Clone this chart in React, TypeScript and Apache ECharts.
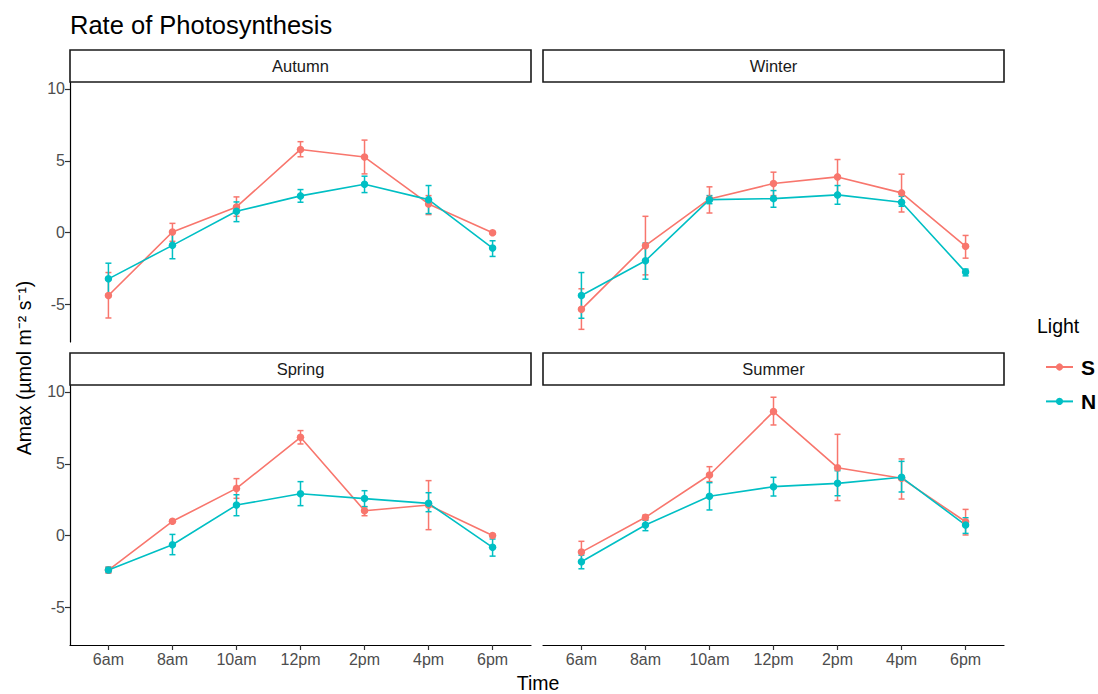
import React, { useEffect, useRef } from "react";
import * as echarts from "echarts";

const times = ["6am", "8am", "10am", "12pm", "2pm", "4pm", "6pm"];
const seasons = ["Autumn", "Winter", "Spring", "Summer"];
const yTicks = [-5, 0, 5, 10];

// Autumn
const autumnS = [-4.37, 0.05, 1.79, 5.79, 5.26, 2.0, 0.0];
const autumnSLow = [-5.93, -0.6, 1.14, 5.28, 4.09, 1.26, -0.08];
const autumnSHigh = [-2.77, 0.65, 2.49, 6.33, 6.44, 2.58, 0.08];
const autumnN = [-3.21, -0.88, 1.49, 2.56, 3.37, 2.3, -1.07];
const autumnNLow = [-4.3, -1.81, 0.77, 2.12, 2.79, 1.33, -1.65];
const autumnNHigh = [-2.12, 0.05, 2.14, 3.0, 3.93, 3.28, -0.56];
// Winter
const winterS = [-5.33, -0.9, 2.35, 3.42, 3.88, 2.77, -0.95];
const winterSLow = [-6.72, -2.93, 1.37, 2.58, 2.65, 1.44, -1.77];
const winterSHigh = [-3.9, 1.14, 3.19, 4.21, 5.09, 4.07, -0.19];
const winterN = [-4.37, -1.95, 2.3, 2.37, 2.63, 2.12, -2.74];
const winterNLow = [-5.95, -3.23, 2.02, 1.77, 1.98, 1.84, -3.0];
const winterNHigh = [-2.77, -0.72, 2.58, 2.93, 3.28, 2.53, -2.53];
// Spring
const springS = [-2.39, 1.0, 3.29, 6.84, 1.74, 2.13, 0.02];
const springSLow = [-2.6, 0.92, 2.6, 6.38, 1.39, 0.42, -0.05];
const springSHigh = [-2.18, 1.08, 3.97, 7.31, 2.02, 3.83, 0.08];
const springN = [-2.39, -0.63, 2.13, 2.92, 2.58, 2.25, -0.81];
const springNLow = [-2.55, -1.32, 1.39, 2.09, 2.02, 1.67, -1.42];
const springNHigh = [-2.2, 0.09, 2.85, 3.76, 3.13, 2.99, -0.23];
// Summer
const summerS = [-1.14, 1.28, 4.22, 8.63, 4.73, 3.99, 0.97];
const summerSLow = [-1.81, 1.09, 3.76, 7.7, 2.44, 2.55, 0.05];
const summerSHigh = [-0.39, 1.44, 4.8, 9.63, 7.05, 5.34, 1.83];
const summerN = [-1.81, 0.74, 2.74, 3.41, 3.64, 4.06, 0.74];
const summerNLow = [-2.3, 0.35, 1.79, 2.76, 2.78, 3.04, 0.16];
const summerNHigh = [-1.35, 1.09, 3.69, 4.06, 4.52, 5.17, 1.25];

const panelS = [
  [autumnS, autumnSLow, autumnSHigh],
  [winterS, winterSLow, winterSHigh],
  [springS, springSLow, springSHigh],
  [summerS, summerSLow, summerSHigh],
];
const panelN = [
  [autumnN, autumnNLow, autumnNHigh],
  [winterN, winterNLow, winterNHigh],
  [springN, springNLow, springNHigh],
  [summerN, summerNLow, summerNHigh],
];

const COLOR_S = "#F8766D";
const COLOR_N = "#00BFC4";
const FONT = "Liberation Sans, Arial, sans-serif";

const grids = [
  { left: 70, top: 82, width: 461, height: 260 },
  { left: 543, top: 82, width: 461, height: 260 },
  { left: 70, top: 385, width: 461, height: 260 },
  { left: 543, top: 385, width: 461, height: 260 },
];

function errSeries(p: number, name: string, color: string, arr: number[][]) {
  return {
    type: "custom",
    name: name + "-err",
    xAxisIndex: p,
    yAxisIndex: p,
    silent: true,
    z: 2,
    encode: { x: 0, y: [1, 2] },
    data: times.map((_, i) => [i, arr[1][i], arr[2][i]]),
    renderItem: (params: any, api: any) => {
      const x = api.value(0);
      const lo = api.coord([x, api.value(1)]);
      const hi = api.coord([x, api.value(2)]);
      const w = 3;
      const style = { stroke: color, lineWidth: 1.5 };
      return {
        type: "group",
        children: [
          { type: "line", shape: { x1: lo[0], y1: lo[1], x2: hi[0], y2: hi[1] }, style },
          { type: "line", shape: { x1: lo[0] - w, y1: lo[1], x2: lo[0] + w, y2: lo[1] }, style },
          { type: "line", shape: { x1: hi[0] - w, y1: hi[1], x2: hi[0] + w, y2: hi[1] }, style },
        ],
      };
    },
  };
}

function lineSeries(p: number, name: string, color: string, arr: number[][]) {
  return {
    type: "line",
    name,
    xAxisIndex: p,
    yAxisIndex: p,
    z: 3,
    symbol: "circle",
    symbolSize: 7.5,
    itemStyle: { color },
    lineStyle: { color, width: 1.6 },
    data: times.map((_, i) => [i, arr[0][i]]),
  };
}

export default function App() {
  const ref = useRef<HTMLDivElement>(null);
  useEffect(() => {
    if (!ref.current) return;
    document.body.style.margin = "0";
    const chart = echarts.init(ref.current, null, { renderer: "svg" });

    const xAxes = grids.map((_, p) => ({
      type: "value",
      gridIndex: p,
      min: -0.6,
      max: 6.6,
      splitLine: { show: false },
      axisLine: { show: p >= 2, onZero: false, lineStyle: { color: "#000", width: 1.2 } },
      axisTick: {
        show: p >= 2,
        customValues: times.map((_, i) => i),
        length: 5,
        lineStyle: { color: "#333", width: 1.2 },
      },
      axisLabel: {
        show: p >= 2,
        customValues: times.map((_, i) => i),
        formatter: (v: number) => times[Math.round(v)] ?? "",
        color: "#4D4D4D",
        fontSize: 16,
        fontFamily: FONT,
        margin: 6,
      },
    }));

    const yAxes = grids.map((_, p) => ({
      type: "value",
      gridIndex: p,
      min: -7.6,
      max: 10.48,
      splitLine: { show: false },
      axisLine: { show: p % 2 === 0, onZero: false, lineStyle: { color: "#000", width: 1.2 } },
      axisTick: {
        show: p % 2 === 0,
        customValues: yTicks,
        length: 5,
        lineStyle: { color: "#333", width: 1.2 },
      },
      axisLabel: {
        show: p % 2 === 0,
        customValues: yTicks,
        color: "#4D4D4D",
        fontSize: 16,
        fontFamily: FONT,
        margin: 5,
      },
    }));

    const series: any[] = [];
    grids.forEach((_, p) => {
      series.push(errSeries(p, "S", COLOR_S, panelS[p]));
      series.push(errSeries(p, "N", COLOR_N, panelN[p]));
      series.push(lineSeries(p, "S", COLOR_S, panelS[p]));
      series.push(lineSeries(p, "N", COLOR_N, panelN[p]));
    });

    const graphics: any[] = [];
    grids.forEach((g, p) => {
      graphics.push({
        type: "rect",
        shape: { x: g.left, y: g.top - 32, width: g.width, height: 32 },
        style: { fill: "#fff", stroke: "#1a1a1a", lineWidth: 1.6 },
        z: 10,
      });
      graphics.push({
        type: "text",
        x: g.left + g.width / 2,
        y: g.top - 16,
        style: {
          text: seasons[p],
          fill: "#1a1a1a",
          fontSize: 16.5,
          fontFamily: FONT,
          align: "center",
          verticalAlign: "middle",
        },
        z: 11,
      });
    });
    graphics.push({
      type: "text",
      x: 70,
      y: 25,
      style: {
        text: "Rate of Photosynthesis",
        fill: "#000",
        fontSize: 25.5,
        fontFamily: FONT,
        align: "left",
        verticalAlign: "middle",
      },
    });
    graphics.push({
      type: "text",
      x: 538,
      y: 683,
      style: {
        text: "Time",
        fill: "#000",
        fontSize: 19.5,
        fontFamily: FONT,
        align: "center",
        verticalAlign: "middle",
      },
    });
    graphics.push({
      type: "text",
      x: 24,
      y: 368,
      rotation: Math.PI / 2,
      style: {
        text: "Amax (µmol m⁻² s⁻¹)",
        fill: "#000",
        fontSize: 19.5,
        fontFamily: FONT,
        align: "center",
        verticalAlign: "middle",
      },
    });
    graphics.push({
      type: "text",
      x: 1037,
      y: 326,
      style: {
        text: "Light",
        fill: "#000",
        fontSize: 19.5,
        fontFamily: FONT,
        align: "left",
        verticalAlign: "middle",
      },
    });

    chart.setOption({
      animation: false,
      backgroundColor: "#fff",
      textStyle: { fontFamily: FONT },
      grid: grids.map((g) => ({ ...g, containLabel: false })),
      xAxis: xAxes,
      yAxis: yAxes,
      legend: {
        data: ["S", "N"],
        orient: "vertical",
        left: 1040,
        top: 351,
        itemWidth: 27,
        itemHeight: 9,
        itemGap: 12.4,
        selectedMode: false,
        textStyle: {
          fontSize: 21,
          fontWeight: "bold",
          color: "#000",
          lineHeight: 22,
          fontFamily: FONT,
          padding: [0, 0, 0, 3],
        },
      },
      graphic: graphics,
      series,
    });
    return () => chart.dispose();
  }, []);
  return <div ref={ref} style={{ width: 1098, height: 694 }} />;
}
